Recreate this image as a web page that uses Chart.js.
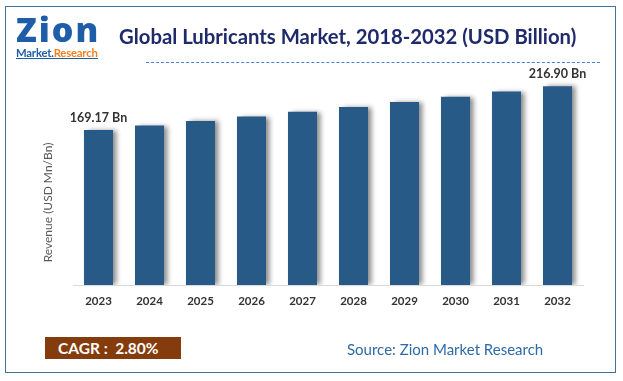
<!DOCTYPE html>
<html>
<head>
<meta charset="utf-8">
<script src="https://cdn.jsdelivr.net/npm/chart.js@4"></script>
<style>
  html, body { margin: 0; padding: 0; background: #fff; }
  #wrap { position: relative; width: 623px; height: 381px; overflow: hidden; font-family: Lato, "Open Sans", sans-serif; }
  #frame { position: absolute; left: 5px; top: 6px; width: 609px; height: 365px; border: 1.5px solid #41719c; }
  canvas { position: absolute; left: 0; top: 0; }
  .title { position: absolute; left: 119px; top: 24px; font-size: 20.3px; font-weight: 700; color: #1f2a6b; white-space: nowrap; }
  .dash { position: absolute; left: 146px; top: 62px; width: 454px; border-top: 1.5px dashed #4a7fd0; }
  .logo-zion { position: absolute; left: 16px; top: 9px; font-size: 34px; line-height: 40px; font-weight: 900; color: #1e5ea8; letter-spacing: 2px; font-family: "Open Sans", Lato, sans-serif; }
  .logo-sub { position: absolute; left: 16px; top: 47px; font-size: 11.3px; font-weight: 700; color: #1e5ea8; border-bottom: 1.5px solid #1e5ea8; line-height: 11px; letter-spacing: -0.2px; background: #fff; }
  .logo-sub span { color: #f0821e; }
  .cagr { position: absolute; left: 45px; top: 337px; width: 136px; height: 22px; background: #843c0c; color: #fff; font-size: 15.5px; font-weight: 700; line-height: 22px; padding-left: 13px; box-sizing: border-box; white-space: pre; }
  .source { position: absolute; left: 347px; top: 340px; font-size: 15px; color: #2e6aa6; }
</style>
</head>
<body>
<div id="wrap">
  <canvas id="chart" width="623" height="381"></canvas>
  <div id="frame"></div>
  <div class="logo-zion">Zion</div>
  <div class="logo-sub">Market.<span>Research</span></div>
  <div class="title">Global Lubricants Market, 2018-2032 (USD Billion)</div>
  <div class="dash"></div>
  <div class="cagr">CAGR :  2.80%</div>
  <div class="source">Source: Zion Market Research</div>
</div>
<script>
const years = ['2023', '2024', '2025', '2026', '2027', '2028', '2029', '2030', '2031', '2032'];
const revenue = [169.17, 173.9, 178.8, 183.8, 188.9, 194.2, 199.7, 205.3, 211.0, 216.90];
const axisTitle = 'Revenue (USD Mn/Bn)';

// soft shadow on the right of every bar
const barShadow = {
  id: 'barShadow',
  beforeDatasetsDraw(chart) {
    const ctx = chart.ctx;
    ctx.save();
    ctx.shadowColor = 'rgba(0,0,0,0.45)';
    ctx.shadowBlur = 5;
    ctx.shadowOffsetX = 4;
    ctx.shadowOffsetY = 0;
  },
  afterDatasetsDraw(chart) {
    chart.ctx.restore();
  }
};

// value labels on first and last bar only, plus the y title (sits low in the original)
const endLabels = {
  id: 'endLabels',
  afterDatasetsDraw(chart) {
    const ctx = chart.ctx;
    const bars = chart.getDatasetMeta(0).data;
    ctx.save();
    ctx.font = 'bold 12.5px Lato, "Open Sans", sans-serif';
    ctx.fillStyle = '#333333';
    ctx.textAlign = 'center';
    ctx.textBaseline = 'bottom';
    [0, bars.length - 1].forEach(i => {
      const b = bars[i];
      ctx.fillText(revenue[i].toFixed(2) + ' Bn', b.x, b.y - 6);
    });

    const y = chart.scales.y;
    ctx.translate(48, y.getPixelForValue(90));
    ctx.rotate(-Math.PI / 2);
    ctx.font = '12px Lato, "Open Sans", sans-serif';
    ctx.fillStyle = '#595959';
    ctx.textBaseline = 'middle';
    ctx.fillText(axisTitle, 0, 0);
    ctx.restore();
  }
};

new Chart(document.getElementById('chart'), {
  type: 'bar',
  data: {
    labels: years,
    datasets: [{
      data: revenue,
      backgroundColor: '#285a87',
      categoryPercentage: 0.57,
      barPercentage: 1
    }]
  },
  options: {
    responsive: false,
    animation: false,
    layout: { padding: { left: 37, top: 65, right: 40, bottom: 0 } },
    plugins: { legend: { display: false }, tooltip: { enabled: false } },
    scales: {
      x: {
        grid: { display: false, drawTicks: false },
        border: { display: true, color: '#d9d9d9', width: 1 },
        ticks: { color: '#333333', padding: 9, font: { family: 'Lato, "Open Sans", sans-serif', size: 11.5, weight: 'bold' } },
        afterFit: s => { s.height = 96; }
      },
      y: {
        min: 0, max: 240,
        grid: { display: false, drawTicks: false },
        border: { display: false },
        ticks: { display: false },
        afterFit: s => { s.width = 36; }
      }
    }
  },
  plugins: [barShadow, endLabels]
});
</script>
</body>
</html>
